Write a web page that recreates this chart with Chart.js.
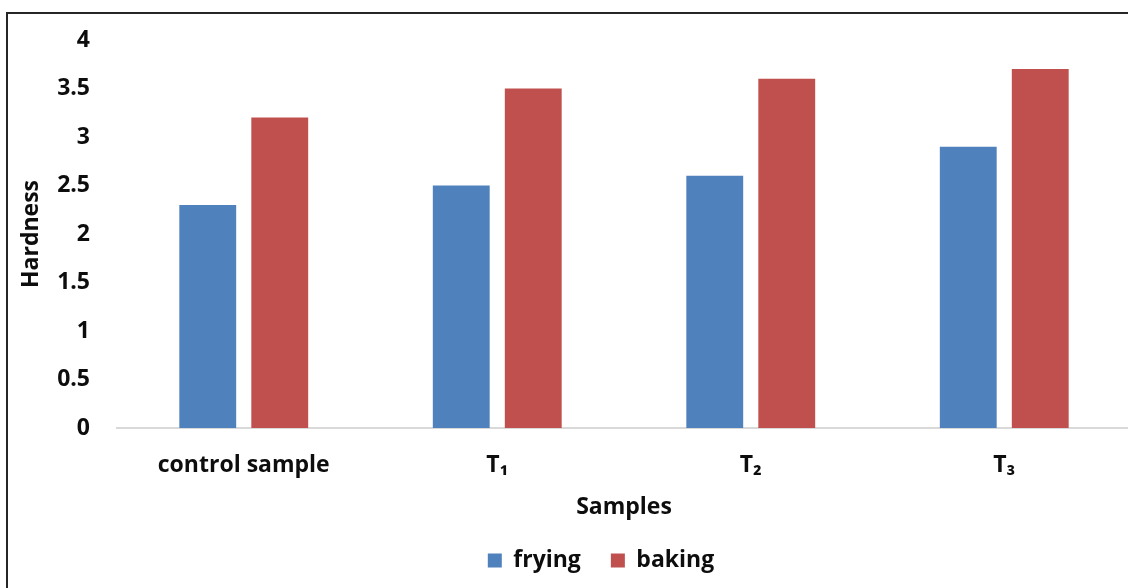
<!DOCTYPE html>
<html>
<head>
<meta charset="utf-8">
<script src="https://cdn.jsdelivr.net/npm/chart.js@4/dist/chart.umd.min.js"></script>
<style>
  html, body { margin: 0; padding: 0; background: #fff; overflow: hidden; }
  body { width: 1128px; height: 588px; position: relative; }
  #frame { position: absolute; left: 6px; top: 12px; width: 1400px; height: 800px;
           border-left: 2px solid #262626; border-top: 2px solid #262626; box-sizing: border-box; }
  #wrap { position: absolute; left: 0; top: 0; width: 1194px; height: 588px; }
</style>
</head>
<body>
<div id="frame"></div>
<div id="wrap"><canvas id="c" width="1194" height="588"></canvas></div>
<script>
// Hardness of each sample under two cooking methods
const categories = ['control sample', 'T\u2081', 'T\u2082', 'T\u2083'];
const fryingValues = [2.3, 2.5, 2.6, 2.9];
const bakingValues = [3.2, 3.5, 3.6, 3.7];
const seriesNames = ['frying', 'baking'];

const FONT = '"Open Sans", "Liberation Sans", sans-serif';
const INK = '#0d0d0d';
const textFont = (lh) => ({ family: FONT, size: 23, weight: 'bold', lineHeight: lh });

new Chart(document.getElementById('c'), {
  type: 'bar',
  data: {
    labels: categories,
    datasets: [
      { label: seriesNames[0], data: fryingValues, backgroundColor: '#4F81BD',
        yAxisID: 'y', categoryPercentage: 0.568, barPercentage: 0.79 },
      { label: seriesNames[1], data: bakingValues, backgroundColor: '#C0504D',
        yAxisID: 'y', categoryPercentage: 0.568, barPercentage: 0.79 }
    ]
  },
  options: {
    responsive: false,
    animation: false,
    devicePixelRatio: 1,
    layout: { padding: { left: 8, top: 40, right: 0, bottom: 6 } },
    plugins: {
      tooltip: { enabled: false },
      legend: {
        position: 'bottom',
        labels: {
          color: INK,
          font: textFont(1.2),
          boxWidth: 14, boxHeight: 14, padding: 30
        }
      }
    },
    scales: {
      x: {
        grid: { display: false },
        border: { display: true, color: '#D9D9D9', width: 2 },
        ticks: { color: INK, font: textFont(1.2), padding: 16, maxRotation: 0 },
        title: { display: true, text: 'Samples', color: INK,
                 font: textFont(1), padding: { top: 0, bottom: 0 } },
        afterFit: s => { s.height = 91; }
      },
      y: {
        min: 0, max: 4,
        grid: { display: false },
        border: { display: false },
        ticks: { stepSize: 0.5, color: INK, font: textFont(1.2), padding: 19,
                 callback: v => String(v) },
        title: { display: true, text: 'Hardness', color: INK,
                 font: textFont(1), padding: { top: 12, bottom: 0 } },
        afterFit: s => { s.width = 109; }
      },
      y2: {
        position: 'right',
        display: true,
        grid: { display: false },
        border: { display: false },
        ticks: { display: false },
        afterFit: s => { s.width = 63; }
      }
    }
  }
});
</script>
</body>
</html>
